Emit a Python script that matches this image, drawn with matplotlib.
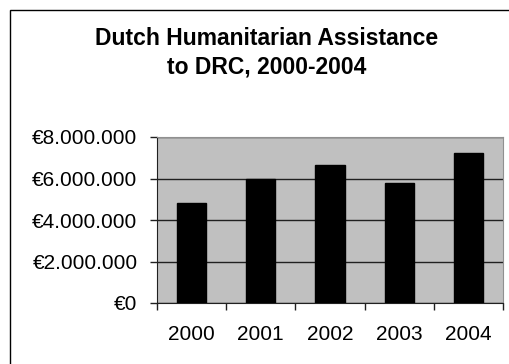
from matplotlib import pyplot as plt
from matplotlib.patches import Rectangle
from matplotlib.ticker import FuncFormatter, FixedLocator
import numpy as np

years = ["2000", "2001", "2002", "2003", "2004"]
amounts = [4840000, 5980000, 6630000, 5780000, 7240000]
y_ticks = [0, 2000000, 4000000, 6000000, 8000000]

plt.rcParams["font.family"] = ["Liberation Sans", "DejaVu Sans"]

W, H = 510, 364
fig = plt.figure(figsize=(W / 100, H / 100), dpi=100)
fig.patch.set_facecolor("white")

# outer chart border (right/bottom edges fall outside the picture)
fig.patches.append(
    Rectangle((10 / W, -0.1), 1.2, 1 - 10 / H + 0.1, transform=fig.transFigure,
              fill=False, edgecolor="black", linewidth=1.0)
)

ax = fig.add_axes([157 / W, 1 - 303 / H, (503 - 157) / W, (303 - 137) / H])
ax.set_facecolor("#C0C0C0")

x = np.arange(len(years))
ax.bar(x, amounts, width=0.42, color="black", edgecolor="black", zorder=3)

ax.set_xlim(-0.5, len(years) - 0.5)
ax.set_ylim(0, 8000000)
ax.set_yticks(y_ticks)
ax.yaxis.set_major_formatter(
    FuncFormatter(lambda v, p: "€" + f"{int(v):,}".replace(",", "."))
)
ax.grid(axis="y", color="#202020", linewidth=1.0, zorder=1)

ax.set_xticks(x)
ax.set_xticklabels(years)
ax.xaxis.set_minor_locator(FixedLocator(np.arange(-0.5, len(years), 1.0)))
ax.tick_params(axis="x", which="major", length=0, pad=16, labelsize=15)
ax.tick_params(axis="x", which="minor", length=5, width=1, color="#202020")
ax.tick_params(axis="y", length=5, width=1, color="#202020", labelsize=15, pad=9)

ax.spines["left"].set_color("#202020")
ax.spines["bottom"].set_color("#202020")
ax.spines["top"].set_color("#909090")
ax.spines["right"].set_color("#909090")

fig.text(267 / W, 1 - 53 / H, "Dutch Humanitarian Assistance\nto DRC, 2000-2004",
         ha="center", va="center", fontsize=16.5, fontweight="bold", linespacing=1.3)

fig.savefig("out.png", dpi=100)
